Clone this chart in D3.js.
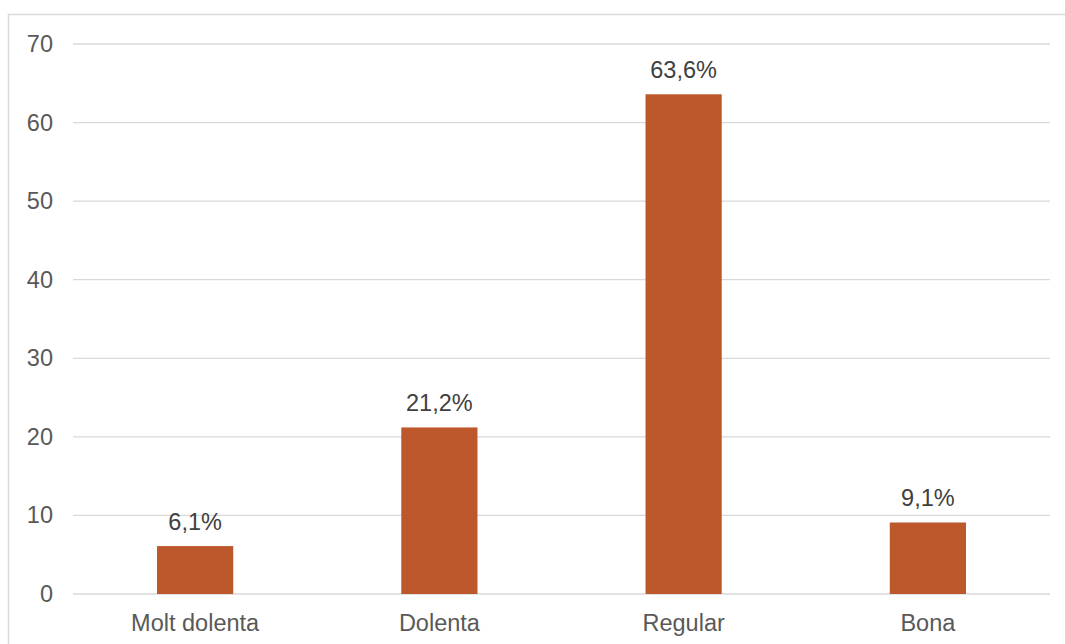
<!DOCTYPE html>
<html>
<head>
<meta charset="utf-8">
<script src="https://cdn.jsdelivr.net/npm/d3@7"></script>
<style>
  html, body { margin: 0; padding: 0; background: #fff; }
  svg { display: block; font-family: "Liberation Sans", Arial, sans-serif; }
</style>
</head>
<body>
<svg id="chart" width="1065" height="644"></svg>
<script>
const categories = ["Molt dolenta", "Dolenta", "Regular", "Bona"];
const values = [6.1, 21.2, 63.6, 9.1];
const valueLabels = ["6,1%", "21,2%", "63,6%", "9,1%"];
const yTicks = [0, 10, 20, 30, 40, 50, 60, 70];

const svg = d3.select("#chart");
const W = 1065, H = 644;
const plot = { left: 73, right: 1050, top: 44, bottom: 594 };
const FS = "23.5px";

// chart area border
svg.append("rect")
  .attr("x", 8.5).attr("y", 14.5)
  .attr("width", W + 10).attr("height", H + 10)
  .attr("fill", "#fff").attr("stroke", "#d9d9d9").attr("stroke-width", 1.5);

const x = d3.scaleBand().domain(categories)
  .range([plot.left, plot.right]).paddingInner(0.688).paddingOuter(0.344);
const y = d3.scaleLinear().domain([0, 70]).range([plot.bottom, plot.top]);

// gridlines
svg.append("g").selectAll("line").data(yTicks).join("line")
  .attr("x1", plot.left).attr("x2", plot.right)
  .attr("y1", d => y(d)).attr("y2", d => y(d))
  .attr("stroke", "#d9d9d9").attr("stroke-width", 1.3);

// y axis labels
const yAxis = d3.axisLeft(y).tickValues(yTicks).tickSize(0).tickPadding(0);
const gy = svg.append("g").attr("transform", `translate(53,0)`).call(yAxis);
gy.select(".domain").remove();
gy.selectAll("text").attr("fill", "#595959").style("font-size", FS)
  .attr("font-family", "'Liberation Sans', Arial, sans-serif");

// bars
const data = categories.map((c, i) => ({ c, v: values[i], l: valueLabels[i] }));
svg.append("g").selectAll("rect").data(data).join("rect")
  .attr("x", d => x(d.c)).attr("width", x.bandwidth())
  .attr("y", d => y(d.v)).attr("height", d => y(0) - y(d.v))
  .attr("fill", "#bc582c");

// value labels
svg.append("g").selectAll("text").data(data).join("text")
  .attr("x", d => x(d.c) + x.bandwidth() / 2)
  .attr("y", d => y(d.v) - 16.5)
  .attr("text-anchor", "middle")
  .attr("fill", "#404040").style("font-size", FS)
  .text(d => d.l);

// x axis labels
const xAxis = d3.axisBottom(x).tickSize(0).tickPadding(0);
const gx = svg.append("g").attr("transform", `translate(0,${plot.bottom})`).call(xAxis);
gx.select(".domain").remove();
gx.selectAll("text").attr("fill", "#595959").style("font-size", FS)
  .attr("dy", null).attr("y", 37)
  .attr("font-family", "'Liberation Sans', Arial, sans-serif");
</script>
</body>
</html>
